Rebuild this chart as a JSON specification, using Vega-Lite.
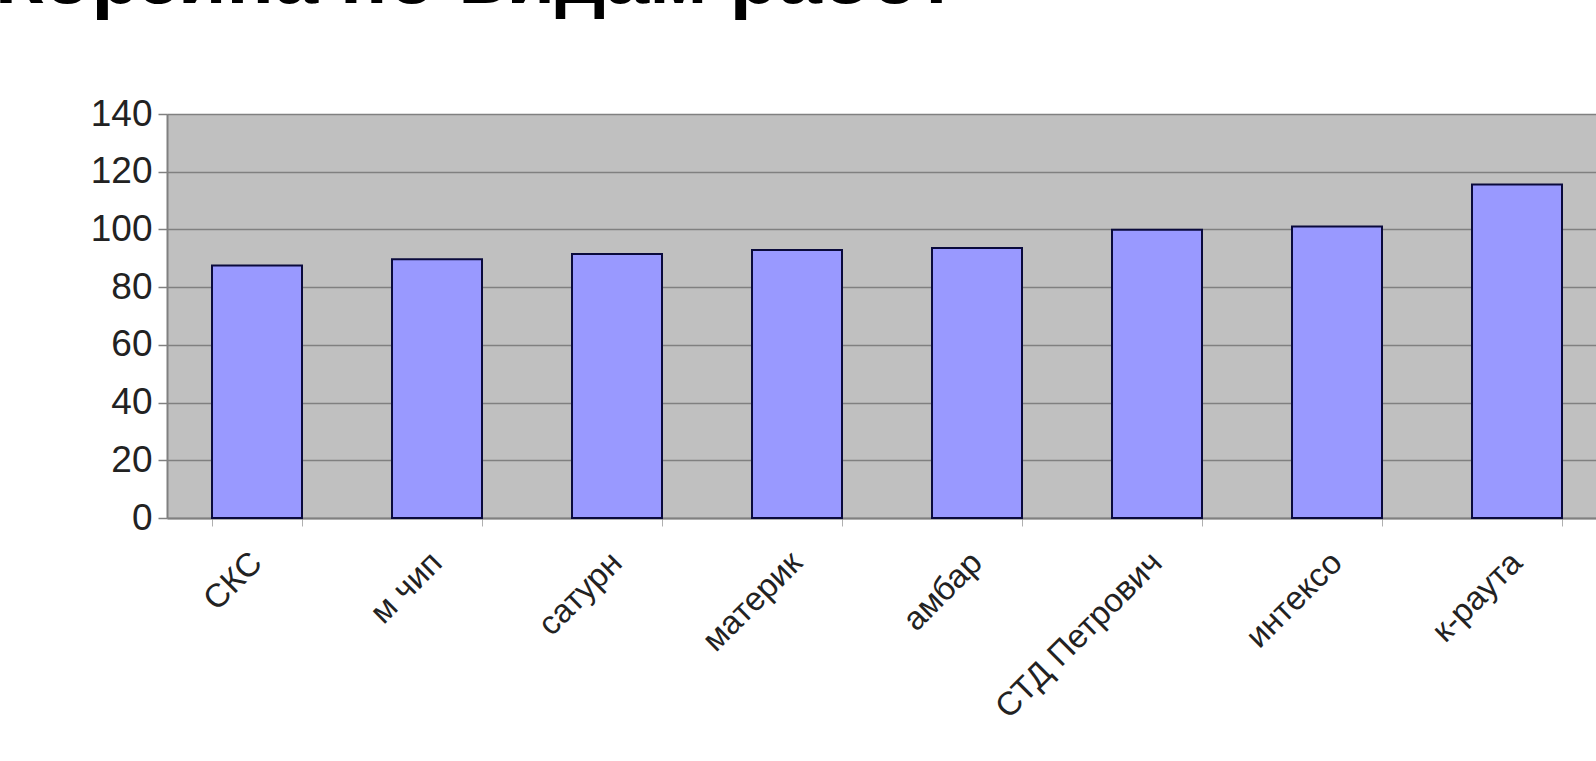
{
  "$schema": "https://vega.github.io/schema/vega-lite/v6.json",
  "autosize": {"type": "none"},
  "width": 1429,
  "height": 404,
  "padding": {"left": 167, "top": 114, "right": 0, "bottom": 243},
  "background": "white",
  "title": {
    "text": "Корзина по видам работ",
    "font": "Liberation Sans",
    "fontSize": 79,
    "fontWeight": "bold",
    "color": "#000000",
    "anchor": "start",
    "frame": "group",
    "orient": "top",
    "baseline": "alphabetic",
    "dx": -172,
    "dy": 42,
    "offset": 55
  },
  "data": {
    "values": [
      {"company": "СКС", "value": 87.5},
      {"company": "м чип", "value": 89.7},
      {"company": "сатурн", "value": 91.5},
      {"company": "материк", "value": 92.9},
      {"company": "амбар", "value": 93.6},
      {"company": "СТД Петрович", "value": 99.9},
      {"company": "интексо", "value": 101},
      {"company": "к-раута", "value": 115.6}
    ]
  },
  "mark": {"type": "bar", "fill": "#9999FF", "stroke": "#0A0A3C", "strokeWidth": 2},
  "encoding": {
    "x": {
      "field": "company",
      "type": "nominal",
      "sort": null,
      "scale": {"range": [0, 1440], "paddingInner": 0.5, "paddingOuter": 0.25},
      "axis": {
        "title": null,
        "labelAngle": -45,
        "labelFont": "Liberation Sans",
        "labelFontSize": 33,
        "labelColor": "#222222",
        "labelPadding": 20,
        "labelOffset": -12,
        "labelLimit": 0,
        "tickBand": "extent",
        "tickColor": "#B0B0B0",
        "tickSize": 8,
        "domainColor": "#808080",
        "domainWidth": 2,
        "grid": false
      }
    },
    "y": {
      "field": "value",
      "type": "quantitative",
      "scale": {"domain": [0, 140], "nice": false},
      "axis": {
        "title": null,
        "values": [0, 20, 40, 60, 80, 100, 120, 140],
        "labelFont": "Liberation Sans",
        "labelFontSize": 37,
        "labelColor": "#222222",
        "labelPadding": 6,
        "tickSize": 9,
        "tickColor": "#808080",
        "tickWidth": 1.5,
        "domainColor": "#808080",
        "domainWidth": 2,
        "grid": true,
        "gridColor": "#808080",
        "gridWidth": 1.5
      }
    }
  },
  "config": {
    "view": {"fill": "#C0C0C0", "stroke": null}
  }
}
